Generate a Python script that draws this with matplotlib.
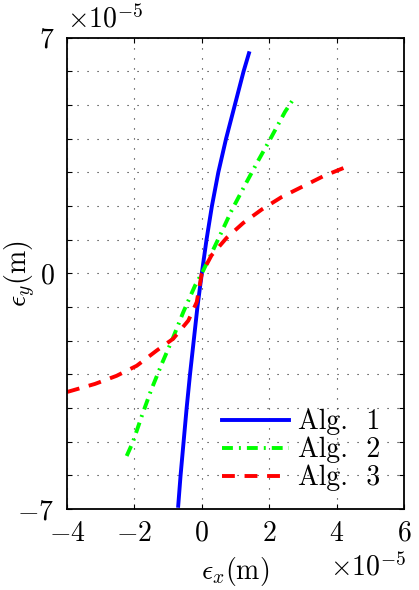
import matplotlib
matplotlib.use("Agg")
import matplotlib.pyplot as plt
import numpy as np

plt.rcParams['font.family'] = 'serif'
plt.rcParams['font.serif'] = ['cmr10', 'DejaVu Serif']
plt.rcParams['mathtext.fontset'] = 'cm'
plt.rcParams['axes.unicode_minus'] = True

# values in units of 1e-5 m
alg1_x = [-0.70, -0.63, -0.54, -0.45, -0.35, -0.24, -0.13, 0.0, 0.14, 0.30, 0.49, 0.72, 0.98, 1.24, 1.40]
alg1_y = [-6.9, -6.0, -5.0, -4.0, -3.0, -2.0, -1.0, 0.0, 1.0, 2.0, 3.0, 4.0, 5.0, 6.0, 6.54]

alg2_x = [-2.23, -2.05, -1.78, -1.51, -1.19, -0.85, -0.55, -0.20, 0.0, 0.19, 0.54, 0.89, 1.28, 1.68, 2.07, 2.47, 2.70]
alg2_y = [-5.42, -5.02, -4.23, -3.48, -2.69, -1.90, -1.15, -0.36, 0.0, 0.39, 1.13, 1.88, 2.62, 3.36, 4.06, 4.80, 5.15]

alg3_x = [-4.0, -3.86, -3.17, -2.53, -1.93, -1.34, -0.85, -0.40, -0.15, 0.0, 0.29, 0.74, 1.23, 1.78, 2.37, 3.01, 3.61, 4.40]
alg3_y = [-3.52, -3.48, -3.28, -3.04, -2.74, -2.29, -1.94, -1.40, -0.85, 0.0, 0.54, 1.06, 1.50, 1.90, 2.27, 2.59, 2.89, 3.21]

labels = ['Alg.  1', 'Alg.  2', 'Alg.  3']
xticks = [-4, -2, 0, 2, 4, 6]
yticks = list(range(-7, 8))
ytick_labels = ['$-7$' if t == -7 else ('$0$' if t == 0 else ('$7$' if t == 7 else '')) for t in yticks]
xtick_labels = ['$%d$' % t if t >= 0 else '$-%d$' % (-t) for t in xticks]

FS = 20

fig = plt.figure(figsize=(4.19, 5.90), dpi=100)
ax = fig.add_axes([0.160, 0.137, 0.804, 0.799])

lw = 2.8
ax.plot(alg1_x, alg1_y, color='#0000ff', lw=lw, ls='-', label=labels[0])
ax.plot(alg2_x, alg2_y, color='#00ff00', lw=lw, ls=(0, (2.8, 1.55, 0.5, 1.55)), label=labels[1])
ax.plot(alg3_x, alg3_y, color='#ff0000', lw=lw, ls=(0, (3.3, 2.5)), label=labels[2])

ax.set_xlim(-4, 6)
ax.set_ylim(-7, 7)
ax.set_xticks(xticks)
ax.set_xticklabels(xtick_labels)
ax.set_yticks(yticks)
ax.set_yticklabels(ytick_labels)
ax.tick_params(direction='in', top=True, right=True, labelsize=FS, length=3.7, width=0.8)
ax.tick_params(axis='x', pad=8)
ax.tick_params(axis='y', pad=9)
ax.grid(True, color='#222222', ls=(0, (1, 8)), lw=0.8)
for s in ax.spines.values():
    s.set_linewidth(1.3)

ax.set_xlabel(r'$\epsilon_x(\mathrm{m})$', fontsize=FS)
ax.xaxis.set_label_coords(0.5, -0.098)
ax.set_ylabel(r'$\epsilon_y(\mathrm{m})$', fontsize=FS)
ax.yaxis.set_label_coords(-0.085, 0.5)
fig.text(0.160, 0.954, r'$\times10^{-5}$', fontsize=FS, ha='left', va='baseline')
fig.text(0.971, 0.025, r'$\times10^{-5}$', fontsize=FS, ha='right', va='baseline')

leg = ax.legend(loc='lower right', bbox_to_anchor=(0.93, 0.038), frameon=False, fontsize=FS,
                handlelength=2.4, labelspacing=0.05, handletextpad=0.32,
                borderaxespad=0.0, borderpad=0.0)

fig.savefig('out.png', dpi=100)
